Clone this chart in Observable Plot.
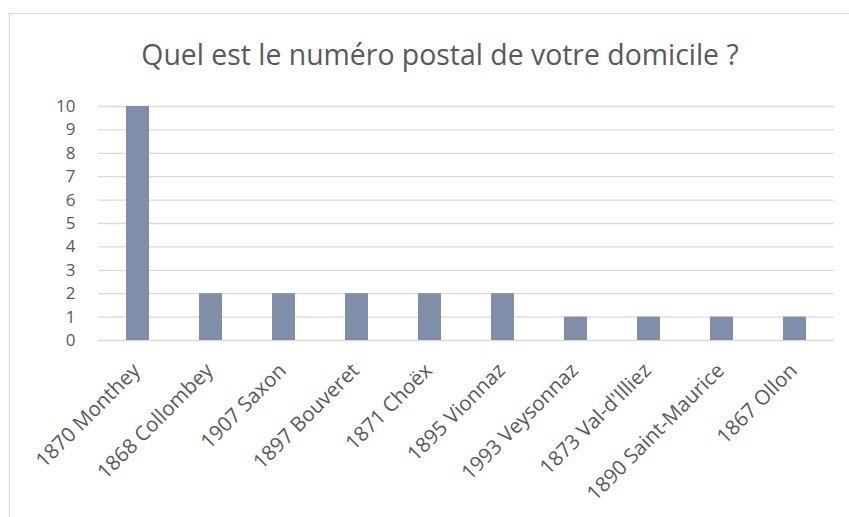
<!DOCTYPE html>
<html>
<head>
<meta charset="utf-8">
<script src="https://cdn.jsdelivr.net/npm/d3@7"></script>
<script src="https://cdn.jsdelivr.net/npm/@observablehq/plot@0.6"></script>
<style>
  html, body { margin: 0; padding: 0; background: #fff; overflow: hidden; }
  #frame { position: absolute; left: 9px; top: 13px; width: 900px; height: 600px; border: 1.5px solid #d9d9d9; box-sizing: border-box; }
  #title { position: absolute; left: 0; width: 880px; top: 35px; text-align: center; font-family: "Open Sans", sans-serif; font-size: 28.4px; color: #595959; white-space: nowrap; }
  #chart { position: absolute; left: 0; top: 0; }
</style>
</head>
<body>
<div id="frame"></div>
<div id="chart"></div>
<div id="title">Quel est le numéro postal de votre domicile ?</div>
<script>
const categories = ["1870 Monthey", "1868 Collombey", "1907 Saxon", "1897 Bouveret", "1871 Choëx", "1895 Vionnaz", "1993 Veysonnaz", "1873 Val-d'Illiez", "1890 Saint-Maurice", "1867 Ollon"];
const counts = [10, 2, 2, 2, 2, 2, 1, 1, 1, 1];
const yTicks = [0, 1, 2, 3, 4, 5, 6, 7, 8, 9, 10];

const data = categories.map((c, i) => ({category: c, count: counts[i]}));

const chart = Plot.plot({
  width: 849,
  height: 517,
  marginTop: 106,
  marginBottom: 177,
  marginLeft: 98,
  marginRight: 15,
  style: {fontFamily: "Open Sans, sans-serif", fontSize: "17px", color: "#595959", background: "transparent"},
  x: {domain: categories, paddingInner: 0.69, paddingOuter: 0.345, label: null, axis: null},
  y: {domain: [0, 10], label: null},
  marks: [
    Plot.gridY(yTicks, {stroke: "#d9d9d9", strokeOpacity: 1, strokeWidth: 1.3}),
    Plot.barY(data, {x: "category", y: "count", fill: "#7f8fa9"}),
    Plot.axisY(yTicks, {tickSize: 0, tickPadding: 23, fontSize: 17, fill: "#595959"}),
    Plot.text(categories, {x: d => d, frameAnchor: "bottom", rotate: -45, textAnchor: "end", lineAnchor: "top", dx: -7, dy: 21, fontSize: 20.5, fill: "#595959"})
  ]
});
document.getElementById("chart").appendChild(chart);
</script>
</body>
</html>
